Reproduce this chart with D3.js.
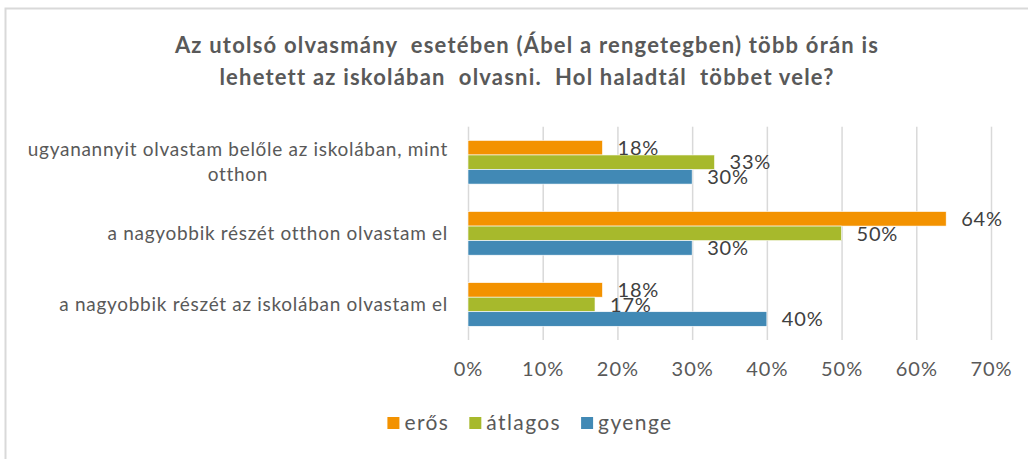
<!DOCTYPE html>
<html>
<head>
<meta charset="utf-8">
<script src="https://cdn.jsdelivr.net/npm/d3@7"></script>
<style>
  html, body { margin: 0; padding: 0; background: #fff; }
  svg { display: block; font-family: Lato, "Open Sans", sans-serif; }
  text { white-space: pre; }
</style>
</head>
<body>
<svg id="chart" width="1028" height="459"></svg>
<script>
// Survey answers, listed top to bottom as they appear on the chart
const categories = [
  "ugyanannyit olvastam belőle az iskolában, mint otthon",
  "a nagyobbik részét otthon olvastam el",
  "a nagyobbik részét az iskolában olvastam el"
];
const seriesNames = ["erős", "átlagos", "gyenge"];
const erosValues = [18, 64, 18];
const atlagosValues = [33, 50, 17];
const gyengeValues = [30, 30, 40];
const xTicks = [0, 10, 20, 30, 40, 50, 60, 70];
const titleLines = [
  "Az utolsó olvasmány  esetében (Ábel a rengetegben) több órán is",
  "lehetett az iskolában  olvasni.  Hol haladtál  többet vele?"
];

const colors = { "erős": "#f39200", "átlagos": "#a7b92c", "gyenge": "#4189b5" };
const valuesBySeries = { "erős": erosValues, "átlagos": atlagosValues, "gyenge": gyengeValues };

const svg = d3.select("#chart");

// chart frame
svg.append("rect")
  .attr("x", 5.5).attr("y", 8.5)
  .attr("width", 1040).attr("height", 470)
  .attr("fill", "#fff")
  .attr("stroke", "#d9d9d9").attr("stroke-width", 2);

// title
svg.append("g").selectAll("text")
  .data(titleLines)
  .join("text")
  .attr("x", 527)
  .attr("y", (d, i) => 53 + i * 32)
  .attr("text-anchor", "middle")
  .attr("font-size", 22)
  .attr("letter-spacing", 1.2)
  .attr("font-weight", "bold")
  .attr("fill", "#595959")
  .text(d => d);

// scales
const x = d3.scaleLinear().domain([0, 70]).range([468, 991]);
const y = d3.scaleBand().domain(categories).range([126.7, 340])
  .paddingInner(0.386).paddingOuter(0.193);
const ySub = d3.scaleBand().domain(seriesNames).range([0, y.bandwidth()]);

// vertical gridlines
const grid = svg.append("g")
  .attr("transform", `translate(0,${y.range()[1]})`)
  .call(d3.axisBottom(x).tickValues(xTicks)
    .tickSize(-(y.range()[1] - y.range()[0]))
    .tickFormat(""));
grid.select(".domain").remove();
grid.selectAll(".tick line").attr("stroke", "#d9d9d9").attr("stroke-width", 1.5);

// x axis labels
const xAxis = svg.append("g")
  .attr("transform", "translate(0,369)")
  .call(d3.axisBottom(x).tickValues(xTicks).tickSize(0).tickPadding(0)
    .tickFormat(d => d + "%"));
xAxis.select(".domain").remove();
xAxis.selectAll("text")
  .attr("font-family", "Lato, 'Open Sans', sans-serif")
  .attr("font-size", 20)
  .attr("letter-spacing", 1)
  .attr("fill", "#595959")
  .attr("dy", "0.35em");

// bars
const rows = categories.map((c, i) => ({
  category: c,
  items: seriesNames.map(s => ({ series: s, value: valuesBySeries[s][i] }))
}));

const groups = svg.append("g").selectAll("g")
  .data(rows)
  .join("g")
  .attr("transform", d => `translate(0,${y(d.category)})`);

groups.selectAll("rect")
  .data(d => d.items)
  .join("rect")
  .attr("x", x(0))
  .attr("y", d => ySub(d.series))
  .attr("width", d => x(d.value) - x(0))
  .attr("height", ySub.bandwidth())
  .attr("fill", d => colors[d.series])
  .attr("stroke", "#fff")
  .attr("stroke-width", 0.6);

groups.selectAll("text")
  .data(d => d.items)
  .join("text")
  .attr("x", d => x(d.value) + 15)
  .attr("y", d => ySub(d.series) + ySub.bandwidth() / 2)
  .attr("dy", "0.36em")
  .attr("font-size", 20)
  .attr("letter-spacing", 0.8)
  .attr("fill", "#404040")
  .text(d => d.value + "%");

// category labels, wrapped and centred as a block right-aligned to the axis
const labelRight = 448;
const maxLabelWidth = 440;
const catG = svg.append("g");
categories.forEach(c => {
  const words = c.split(" ");
  const probe = catG.append("text").attr("font-size", 19).attr("letter-spacing", 0.7)
    .attr("visibility", "hidden");
  const lines = [];
  let line = [];
  words.forEach(w => {
    line.push(w);
    probe.text(line.join(" "));
    if (probe.node().getComputedTextLength() > maxLabelWidth && line.length > 1) {
      line.pop();
      lines.push(line.join(" "));
      line = [w];
    }
  });
  lines.push(line.join(" "));
  const widths = lines.map(l => { probe.text(l); return probe.node().getComputedTextLength(); });
  probe.remove();
  const blockW = d3.max(widths);
  const cy = y(c) + y.bandwidth() / 2;
  const lh = 25;
  lines.forEach((l, i) => {
    catG.append("text")
      .attr("x", lines.length > 1 ? labelRight - blockW / 2 : labelRight)
      .attr("y", cy + (i - (lines.length - 1) / 2) * lh)
      .attr("dy", "0.35em")
      .attr("text-anchor", lines.length > 1 ? "middle" : "end")
      .attr("font-size", 19)
      .attr("letter-spacing", 0.7)
      .attr("fill", "#595959")
      .text(l);
  });
});

// legend
const legend = svg.append("g");
let lx = 0;
seriesNames.forEach(s => {
  const item = legend.append("g").attr("transform", `translate(${lx},0)`);
  item.append("rect").attr("x", 0).attr("y", -6).attr("width", 12).attr("height", 12)
    .attr("fill", colors[s]);
  const t = item.append("text").attr("x", 17).attr("dy", "0.35em")
    .attr("font-size", 21).attr("letter-spacing", 1.4)
    .attr("fill", "#595959").text(s);
  lx += 17 + t.node().getComputedTextLength() + 20;
});
const legendW = lx - 20;
legend.attr("transform", `translate(${530 - legendW / 2},423)`);
</script>
</body>
</html>
